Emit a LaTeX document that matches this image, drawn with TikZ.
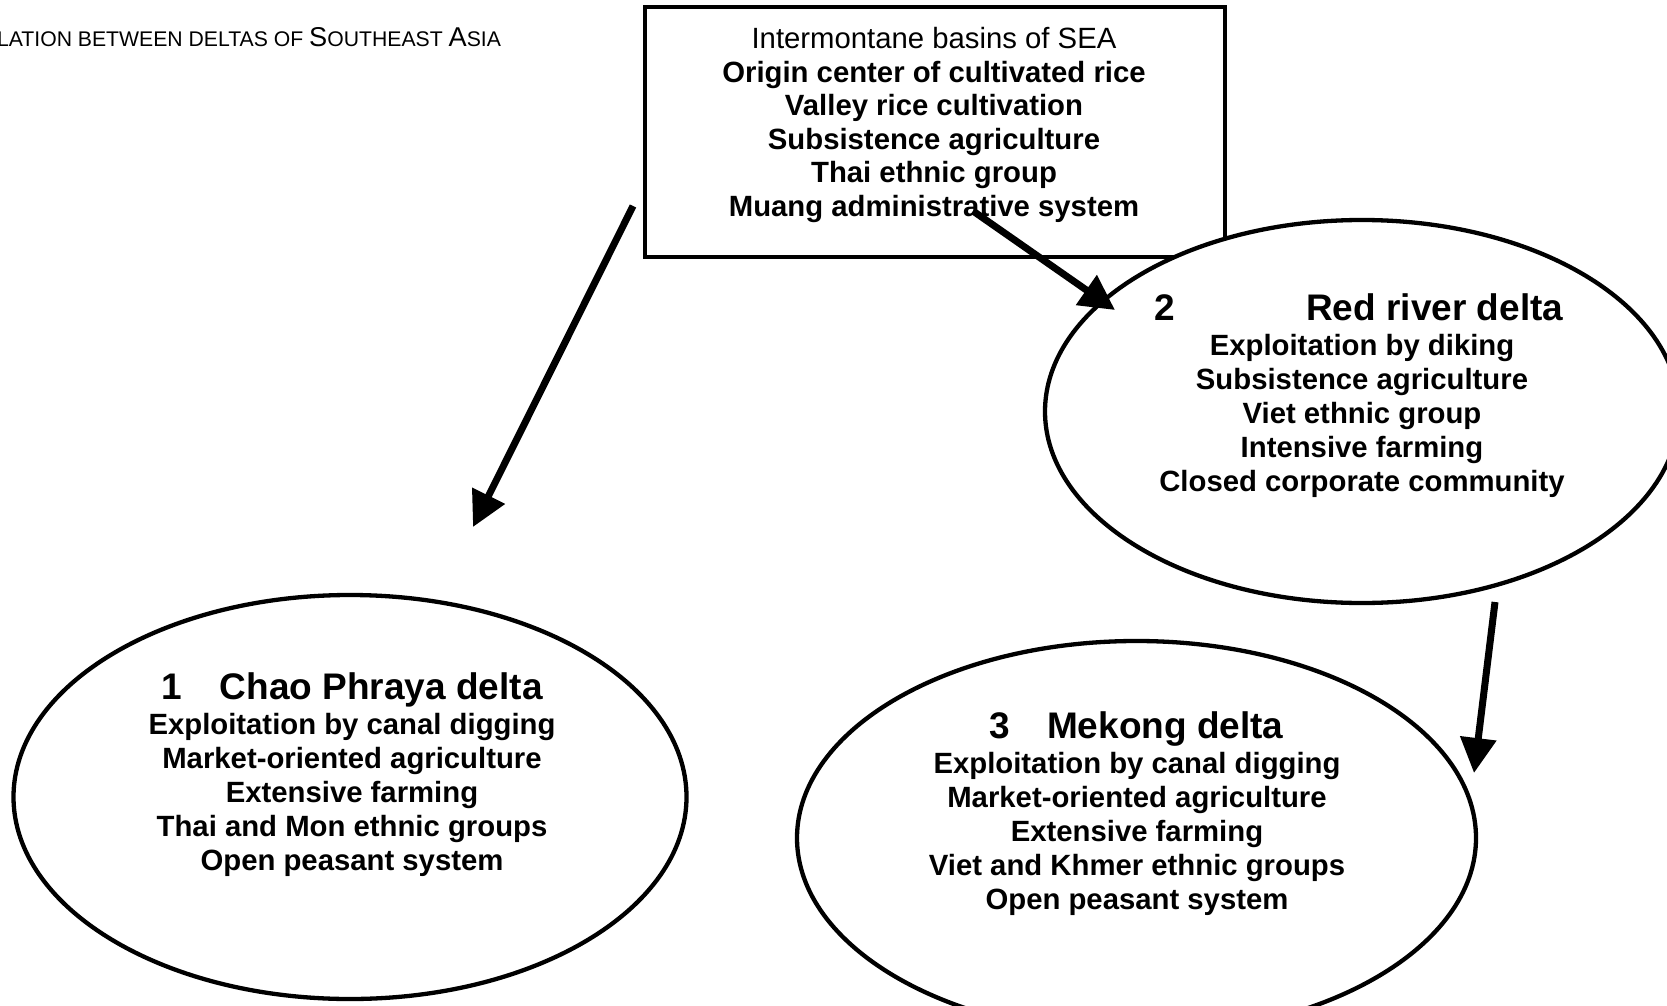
\documentclass[tikz,border=0pt]{standalone}
\usepackage{fontspec}
\setmainfont{Liberation Sans}
\usetikzlibrary{arrows.meta,shapes.geometric}
\newcommand\capsm{\fontsize{21.2}{24}\selectfont}
\newcommand\capbig{\fontsize{27.2}{30}\selectfont}
\begin{document}
\begin{tikzpicture}[x=1pt,y=-1pt,
  every node/.style={inner sep=0pt, outer sep=0pt},
  srcbox/.style={draw, line width=4.5pt, minimum width=580pt, minimum height=250pt},
  delta/.style={draw, ellipse, fill=white, line width=4.3pt},
  bodytext/.style={align=center, font=\fontsize{29.3}{34}\selectfont\bfseries},
  titletext/.style={font=\fontsize{37}{40}\selectfont\bfseries},
  flow/.style={line width=7pt, -{Triangle[length=35pt,width=35pt]}},
]
\useasboundingbox (0,0) rectangle (1667,1006);

% caption
\node[anchor=base east] (cap) at (501,47) {\capsm LATION BETWEEN DELTAS OF \capbig S\capsm OUTHEAST \capbig A\capsm SIA};

% source box
\node[srcbox] (src) at (935,132) {};
\node[bodytext, font=\fontsize{29.3}{33.6}\selectfont\bfseries] (srctext) at (934,125)
  {{\mdseries Intermontane basins of SEA}\\Origin center of cultivated rice\\Valley rice cultivation\\Subsistence agriculture\\Thai ethnic group\\Muang administrative system};

% deltas
\node[delta, minimum width=673pt, minimum height=404pt] (d1) at (350,797) {};
\node[delta, minimum width=634pt, minimum height=383pt] (d2) at (1362,411.5) {};
\node[delta, minimum width=679pt, minimum height=394pt] (d3) at (1136.5,838) {};

\node[titletext] (d1title) at (352,690) {1\hspace*{38pt}Chao Phraya delta};
\node[bodytext] (d1body) at (352,795)
  {Exploitation by canal digging\\Market-oriented agriculture\\Extensive farming\\Thai and Mon ethnic groups\\Open peasant system};

\node[titletext] (d2title) at (1359,307) {2\hspace*{131pt}Red river delta};
\node[bodytext] (d2body) at (1362,416)
  {Exploitation by diking\\Subsistence agriculture\\Viet ethnic group\\Intensive farming\\Closed corporate community};

\node[titletext] (d3title) at (1136.5,729) {3\hspace*{37pt}Mekong delta};
\node[bodytext] (d3body) at (1137,834)
  {Exploitation by canal digging\\Market-oriented agriculture\\Extensive farming\\Viet and Khmer ethnic groups\\Open peasant system};

% arrows
\coordinate (a1s) at (633,206);
\coordinate (a1e) at (473,527);
\coordinate (a2s) at (973,211);
\coordinate (a2e) at (1115,310);
\coordinate (a3s) at (1495,602);
\coordinate (a3e) at (1474,773);
\draw[flow] (a1s) -- (a1e);
\draw[flow] (a2s) -- (a2e);
\draw[flow] (a3s) -- (a3e);
\end{tikzpicture}
\end{document}
